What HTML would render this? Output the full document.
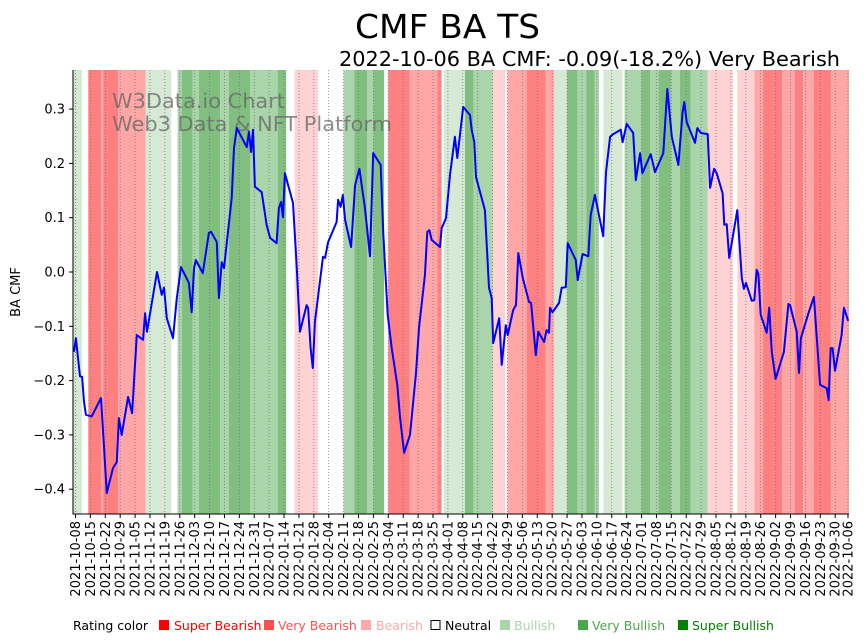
<!DOCTYPE html>
<html><head><meta charset="utf-8">
<style>
html,body{margin:0;padding:0;background:#fff;}
svg{display:block;font-family:"DejaVu Sans","Liberation Sans",sans-serif;}
</style></head>
<body>
<svg id="chart" width="867" height="641" viewBox="0 0 867 641">
  <text x="355" y="38" font-size="33" textLength="185" lengthAdjust="spacingAndGlyphs">CMF BA TS</text>
  <text x="339" y="66" font-size="20" textLength="501" lengthAdjust="spacingAndGlyphs">2022-10-06 BA CMF: -0.09(-18.2%) Very Bearish</text>
  <g id="bands"></g>
  <g id="grid"></g>
  <text x="112" y="108" font-size="20" textLength="173" lengthAdjust="spacingAndGlyphs" fill="#666" fill-opacity="0.75">W3Data.io Chart</text>
  <text x="112" y="131" font-size="20" textLength="280" lengthAdjust="spacingAndGlyphs" fill="#666" fill-opacity="0.75">Web3 Data &amp; NFT Platform</text>
  <path id="cmfLine" fill="none" stroke="#0000ff" stroke-width="2" stroke-linejoin="round"/>
  <line x1="73" y1="70" x2="73" y2="514.5" stroke="#000" stroke-width="1"/>
  <line x1="72.5" y1="514" x2="849" y2="514" stroke="#000" stroke-width="1"/>
  <g id="yaxis"></g>
  <g id="xaxis"></g>
  <text transform="translate(20,292) rotate(-90)" font-size="13" text-anchor="middle">BA CMF</text>
  <g id="legend" font-size="12.5">
    <text x="73" y="630">Rating color</text>
    <rect x="159" y="620" width="10" height="10" fill="#ff0000"/>
    <text x="174" y="630" fill="#ff0000">Super Bearish</text>
    <rect x="264" y="620" width="10" height="10" fill="#ff5050"/>
    <text x="278" y="630" fill="#ff5050">Very Bearish</text>
    <rect x="361" y="620" width="10" height="10" fill="#ffaaaa"/>
    <text x="376" y="630" fill="#ffaaaa">Bearish</text>
    <rect x="431" y="620.5" width="9" height="9" fill="#fff" stroke="#000"/>
    <text x="445" y="630" fill="#000">Neutral</text>
    <rect x="500" y="620" width="10" height="10" fill="#aad4aa"/>
    <text x="514" y="630" fill="#aad4aa">Bullish</text>
    <rect x="578" y="620" width="10" height="10" fill="#4ca64c"/>
    <text x="592" y="630" fill="#4ca64c">Very Bullish</text>
    <rect x="678" y="620" width="10" height="10" fill="#008000"/>
    <text x="692" y="630" fill="#008000">Super Bullish</text>
  </g>
</svg>
<script>
// days since 2021-10-08
const dayIdx = [-0.7,0.2,2.1,3.1,4.0,4.9,7.6,12.0,14.7,17.6,19.4,20.4,21.7,24.7,26.6,28.8,31.7,32.7,33.6,38.3,40.5,41.6,42.9,45.8,47.6,49.6,53.3,54.6,55.7,56.6,59.8,60.9,62.7,63.7,66.4,67.4,68.7,69.8,73.4,74.5,75.8,80.5,81.5,82.5,83.4,84.3,87.5,89.8,91.4,94.5,95.6,96.6,97.5,98.4,102.2,103.9,105.5,108.6,109.3,110.5,111.5,112.5,116.3,117.3,118.7,122.7,123.4,124.6,125.6,126.7,129.5,131.4,133.4,136.0,138.4,139.9,143.4,144.6,146.7,148.6,151.2,152.5,154.4,157.2,160.0,161.4,164.2,165.3,166.3,167.4,171.3,172.1,174.1,176.0,178.3,179.4,182.2,185.4,186.2,187.4,188.2,192.4,194.3,195.6,196.3,199.1,200.3,202.2,203.1,205.7,207.0,208.1,210.2,213.1,214.1,216.3,217.5,220.2,221.4,222.5,223.0,224.2,227.2,228.5,230.4,231.3,235.1,236.0,238.3,241.0,242.1,244.1,248.0,249.3,251.2,252.7,256.2,257.1,259.0,262.1,263.3,265.3,266.4,270.3,272.3,276.2,278.1,280.2,283.3,285.3,286.1,287.2,291.1,292.2,293.9,297.1,298.2,300.1,301.3,304.1,304.9,306.0,307.2,311.0,313.1,314.1,315.1,317.8,319.0,320.1,320.9,322.0,324.8,326.0,327.2,329.0,332.9,335.0,335.8,338.9,340.0,340.9,344.4,347.0,349.9,353.0,353.9,354.9,355.8,356.9,360.0,361.1,363.1];
const cmfValues = [-0.147,-0.122,-0.192,-0.193,-0.239,-0.263,-0.266,-0.232,-0.407,-0.361,-0.350,-0.269,-0.300,-0.230,-0.260,-0.116,-0.125,-0.076,-0.110,0.000,-0.042,-0.029,-0.085,-0.122,-0.048,0.009,-0.020,-0.074,0.007,0.022,-0.002,0.026,0.072,0.074,0.055,-0.048,0.018,0.007,0.136,0.228,0.265,0.230,0.258,0.221,0.262,0.157,0.147,0.087,0.063,0.053,0.118,0.129,0.101,0.182,0.127,0.013,-0.110,-0.061,-0.066,-0.140,-0.177,-0.092,0.028,0.026,0.055,0.092,0.133,0.120,0.142,0.096,0.046,0.160,0.190,0.118,0.029,0.219,0.197,0.074,-0.079,-0.140,-0.208,-0.267,-0.333,-0.300,-0.186,-0.103,-0.006,0.074,0.077,0.059,0.046,0.081,0.099,0.179,0.249,0.210,0.304,0.289,0.262,0.239,0.175,0.114,-0.029,-0.048,-0.131,-0.085,-0.171,-0.098,-0.116,-0.070,-0.061,0.035,-0.011,-0.055,-0.057,-0.153,-0.110,-0.129,-0.107,-0.112,-0.066,-0.074,-0.057,-0.029,-0.028,0.053,0.022,-0.015,0.033,0.029,0.105,0.142,0.066,0.184,0.249,0.254,0.262,0.239,0.273,0.256,0.169,0.219,0.182,0.217,0.184,0.219,0.337,0.249,0.197,0.295,0.313,0.276,0.238,0.265,0.256,0.254,0.155,0.190,0.182,0.145,0.087,0.088,0.026,0.114,-0.011,-0.031,-0.020,-0.053,-0.052,0.004,-0.004,-0.079,-0.112,-0.066,-0.147,-0.197,-0.147,-0.059,-0.061,-0.110,-0.186,-0.122,-0.076,-0.046,-0.208,-0.214,-0.236,-0.140,-0.140,-0.182,-0.116,-0.066,-0.090];
// rating bands: start day, end day, rating (-3 super bearish .. 3 super bullish)
const bandStart = [-2,6,12,13,20,33,48,50,55,58,68,72,82,95,103,126,131,137,140,147,157,170,173,183,187,196,203,212,221,225,231,236,240,244,248,258,266,270,274,280,284,289,297,311,319,323,332,338,342,347,355];
const bandEnd   = [3,12,13,20,33,45,50,55,58,68,72,82,95,99,114,131,137,140,145,157,170,172,183,187,196,202,212,221,225,231,236,240,244,246,257,266,270,274,280,284,289,297,309,319,323,332,338,342,347,355,364];
const bandRating= [1,-3,-2,-3,-2,1,2,3,2,3,2,3,2,3,-1,2,3,2,3,-3,-2,-3,1,3,2,-1,-2,-3,-2,1,3,2,3,2,1,2,3,2,3,2,3,2,-1,-1,-2,-3,-2,-3,-2,-3,-2];
const yTicks = [0.3,0.2,0.1,0.0,-0.1,-0.2,-0.3,-0.4];
const yTickLabels = ["0.3","0.2","0.1","0.0","\u22120.1","\u22120.2","\u22120.3","\u22120.4"];
const xTickDays = [];
for (let i = 0; i <= 51; i++) xTickDays.push(i * 7);
xTickDays.push(363);

const NS = "http://www.w3.org/2000/svg";
const X0 = 75.5, PXD = 2.128, PLOT_L = 73, PLOT_R = 849, PLOT_T = 70, PLOT_B = 514;
function xs(d){ return X0 + d * PXD; }
function ys(v){ return 272 - v * 543; }
const bandColors = {"-3":"#ff8080","-2":"#ffa6a6","-1":"#ffd3d3","1":"#d5e9d5","2":"#aad4aa","3":"#80bf80"};

const bandsG = document.getElementById("bands");
for (let i = 0; i < bandStart.length; i++) {
  const r = document.createElementNS(NS, "rect");
  const a = Math.max(PLOT_L, xs(bandStart[i])), b = Math.min(PLOT_R, xs(bandEnd[i]));
  r.setAttribute("x", a); r.setAttribute("y", PLOT_T);
  r.setAttribute("width", Math.max(0, b - a)); r.setAttribute("height", PLOT_B - PLOT_T);
  r.setAttribute("fill", bandColors[String(bandRating[i])]);
  
  
  bandsG.appendChild(r);
}

function fmt(d){
  const t = new Date(Date.UTC(2021, 9, 8) + d * 86400000);
  const m = String(t.getUTCMonth() + 1).padStart(2, "0"), dd = String(t.getUTCDate()).padStart(2, "0");
  return t.getUTCFullYear() + "-" + m + "-" + dd;
}
const gridG = document.getElementById("grid"), xG = document.getElementById("xaxis");
xTickDays.forEach(function(d){
  const x = xs(d);
  const g = document.createElementNS(NS, "line");
  g.setAttribute("x1", x); g.setAttribute("x2", x); g.setAttribute("y1", PLOT_T); g.setAttribute("y2", PLOT_B);
  g.setAttribute("stroke", "#777"); g.setAttribute("stroke-width", "0.8"); g.setAttribute("stroke-dasharray", "1,2");
  
  
  gridG.appendChild(g);
  const tk = document.createElementNS(NS, "line");
  tk.setAttribute("x1", x); tk.setAttribute("x2", x); tk.setAttribute("y1", PLOT_B); tk.setAttribute("y2", PLOT_B + 4);
  tk.setAttribute("stroke", "#000");
  
  
  xG.appendChild(tk);
  const t = document.createElementNS(NS, "text");
  t.setAttribute("transform", "translate(" + (x + 4.5) + "," + (PLOT_B + 7) + ") rotate(-90)");
  t.setAttribute("text-anchor", "end"); t.setAttribute("font-size", "13");
  t.textContent = fmt(d);
  
  
  xG.appendChild(t);
});

const yG = document.getElementById("yaxis");
yTicks.forEach(function(v, i){
  const y = ys(v);
  const tk = document.createElementNS(NS, "line");
  tk.setAttribute("x1", PLOT_L - 4); tk.setAttribute("x2", PLOT_L); tk.setAttribute("y1", y); tk.setAttribute("y2", y);
  tk.setAttribute("stroke", "#000");
  
  
  yG.appendChild(tk);
  const t = document.createElementNS(NS, "text");
  t.setAttribute("x", PLOT_L - 8); t.setAttribute("y", y + 4.5);
  t.setAttribute("text-anchor", "end"); t.setAttribute("font-size", "13");
  t.textContent = yTickLabels[i];
  
  
  yG.appendChild(t);
});

let dStr = "";
for (let i = 0; i < dayIdx.length; i++) {
  dStr += (i ? "L" : "M") + Math.max(PLOT_L, xs(dayIdx[i])).toFixed(1) + "," + ys(cmfValues[i]).toFixed(1);
}
document.getElementById("cmfLine").setAttribute("d", dStr);
</script>
</body></html>
